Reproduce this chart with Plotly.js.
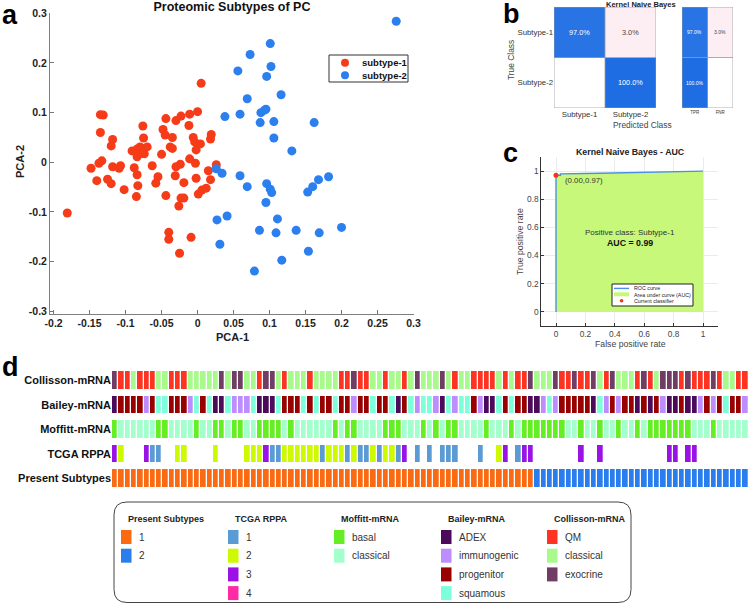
<!DOCTYPE html>
<html><head><meta charset="utf-8">
<script src="https://cdn.plot.ly/plotly-3.0.1.min.js"></script>
<style>html,body{margin:0;padding:0;background:#fff}#chart{width:749px;height:604px}</style>
</head><body><div id="chart"></div>
<script>
const W = 749, H = 604;
const FONT = 'Liberation Sans, Arial, Helvetica, sans-serif';

// ---------- Panel a : PCA scatter ----------
const scatterTitle = 'Proteomic Subtypes of PC';
const seriesNames = ['subtype-1', 'subtype-2'];
const seriesColors = ['#f53b18', '#2b7fee'];
const sub1_x = [0.005,-0.135,-0.131,-0.135,-0.118,-0.120,-0.076,-0.075,-0.091,-0.084,-0.080,-0.074,-0.070,-0.077,-0.084,-0.074,-0.044,-0.048,-0.045,-0.035,-0.038,-0.035,-0.050,-0.030,-0.023,-0.011,0.000,-0.012,-0.006,-0.004,-0.002,0.004,0.019,0.018,-0.011,-0.003,-0.024,-0.030,-0.031,-0.063,-0.055,-0.058,-0.044,-0.019,-0.002,0.001,0.006,0.012,0.015,0.018,0.026,-0.023,-0.019,-0.026,-0.148,-0.137,-0.133,-0.140,-0.125,-0.120,-0.118,-0.109,-0.107,-0.102,-0.088,-0.084,-0.083,-0.085,-0.181,-0.040,-0.040,-0.025,-0.009];
const sub1_y = [0.159,0.096,0.095,0.060,0.046,0.033,0.073,0.049,0.023,0.027,0.031,0.028,0.031,0.018,0.011,0.017,0.088,0.066,0.055,0.050,0.031,0.028,0.016,0.084,0.093,0.097,0.102,0.074,0.050,0.041,0.025,0.037,0.056,0.047,0.007,-0.002,-0.004,-0.009,-0.027,-0.007,-0.029,-0.042,-0.067,-0.041,-0.032,-0.064,-0.056,-0.052,-0.017,-0.035,-0.005,-0.072,-0.072,-0.088,-0.012,-0.002,0.003,-0.037,-0.034,-0.043,-0.009,-0.012,-0.007,-0.055,-0.011,-0.025,-0.047,-0.069,-0.102,-0.141,-0.155,-0.183,-0.151];
const sub2_x = [0.026,0.034,0.038,0.056,0.059,0.069,0.073,0.059,0.069,0.027,0.041,0.031,0.079,0.086,0.087,0.088,0.093,0.095,0.096,0.101,0.102,0.116,0.106,0.106,0.096,0.101,0.103,0.095,0.111,0.109,0.117,0.131,0.137,0.154,0.162,0.153,0.160,0.168,0.169,0.276,0.182,0.200];
const sub2_y = [-0.013,-0.022,0.092,0.184,0.097,0.128,0.217,-0.027,-0.049,-0.116,-0.108,-0.165,-0.219,-0.137,0.080,0.100,0.105,0.107,0.173,0.239,0.193,0.136,0.082,0.049,-0.043,-0.054,-0.061,-0.081,-0.114,-0.142,-0.197,0.023,-0.137,-0.179,0.080,-0.060,-0.049,-0.035,-0.142,0.284,-0.029,-0.131];
const pcaXTicks = [-0.2,-0.15,-0.1,-0.05,0,0.05,0.1,0.15,0.2,0.25,0.3];
const pcaXTickText = ['-0.2','-0.15','-0.1','-0.05','0','0.05','0.1','0.15','0.2','0.25','0.3'];
const pcaYTicks = [-0.3,-0.2,-0.1,0,0.1,0.2,0.3];
const pcaYTickText = ['-0.3','-0.2','-0.1','0','0.1','0.2','0.3'];

// ---------- Panel b : confusion matrix ----------
const cmTitle = 'Kernel Naive Bayes';
const cmClasses = ['Subtype-1', 'Subtype-2'];
const cmPercent = [[97.0, 3.0], [0, 100.0]];
const rateLabels = ['TPR', 'FNR'];
const ratePercent = [[97.0, 3.0], [100.0, 0]];

// ---------- Panel c : ROC ----------
const rocTitle = 'Kernel Naive Bayes - AUC';
const rocFPR = [0, 0, 0.03, 0.03, 0.3, 0.6, 1.0];
const rocTPR = [0, 0.97, 0.97, 0.98, 0.985, 0.99, 1.0];
const opFPR = [0.00];
const opTPR = [0.97];
const aucValue = 0.99;
const positiveClass = 'Subtype-1';
const rocTicks = [0, 0.2, 0.4, 0.6, 0.8, 1];
const rocTickText = ['0', '0.2', '0.4', '0.6', '0.8', '1'];
const rocLegendNames = ['ROC curve', 'Area under curve (AUC)', 'Current classifier'];
const rocLineColor = '#4a8fe6', aucFillColor = '#c8f87a', opColor = '#f5331c';

// ---------- Panel d : annotation tracks ----------
const rowNames = ['Collisson-mRNA', 'Bailey-mRNA', 'Moffitt-mRNA', 'TCGA RPPA', 'Present Subtypes'];
const presentCats = ['1', '2'];
const presentColors = ['#f96a12', '#2a7ded'];
const tcgaCats = ['1', '2', '3', '4'];
const tcgaColors = ['#5b9bd5', '#cdfa00', '#9a12e6', '#ff2aa6'];
const moffittCats = ['basal', 'classical'];
const moffittColors = ['#66ee24', '#a3ffcc'];
const baileyCats = ['ADEX', 'immunogenic', 'progenitor', 'squamous'];
const baileyColors = ['#4b0b5a', '#bd8cff', '#990000', '#7dffdb'];
const collissonCats = ['QM', 'classical', 'exocrine'];
const collissonColors = ['#ff3322', '#a8fa8c', '#703d65'];

// category index per sample (1-based; 0 = missing)
const collisson = [3,1,1,2,1,1,1,2,2,1, 1,1,2,2,2,2,2,3,2,3, 3,2,2,1,3,3,2,1,2,2, 2,1,2,2,2,2,1,1,3,1, 1,2,2,1,2,2,1,2,3,2, 2,2,3,2,1,2,2,1,1,1, 1,2,1,2,1,1,3,2,2,2, 3,1,1,3,1,1,3,2,1,3, 2,2,2,1,3,1,2,3,3,3, 1,3,1,1,1,3,1,2,2,1, 1];
const bailey = [1,3,3,3,3,2,3,4,4,3, 3,3,2,4,3,4,1,1,4,2, 2,2,4,1,1,1,4,3,3,3, 4,3,4,3,3,4,3,3,2,3, 3,4,3,3,4,1,3,4,2,4, 4,2,1,4,2,4,4,3,2,1, 1,4,3,4,3,3,1,1,2,4, 2,3,3,3,3,3,1,4,2,3, 2,3,3,1,3,1,3,2,1,1, 3,1,1,2,3,2,3,4,3,3, 2];
const moffitt = [1,2,2,2,2,2,2,1,1,2, 2,2,2,1,2,2,1,1,2,1, 1,2,2,1,1,1,1,2,1,2, 2,2,2,2,2,1,2,1,1,2, 2,2,2,1,1,1,2,2,2,1, 2,1,2,1,1,2,2,2,2,1, 2,2,2,1,2,1,1,1,1,1, 1,1,2,2,1,2,2,1,2,2, 1,2,2,1,2,1,1,1,1,1, 1,1,2,2,2,1,2,2,2,2, 2];
const tcga = [3,2,0,0,0,3,1,1,0,0, 2,2,0,0,0,0,2,0,0,0, 0,2,2,2,3,1,1,2,2,2, 2,2,2,1,2,2,2,1,2,1, 1,2,1,2,2,1,3,0,1,0, 1,0,1,1,1,0,0,0,1,0, 0,2,3,0,1,3,3,0,0,0, 0,0,0,0,3,0,0,3,0,0, 0,0,0,0,0,0,0,0,3,3, 0,3,3,0,0,0,0,0,0,0, 0];
const present = [1,1,1,1,1,1,1,1,1,1, 1,1,1,1,1,1,1,1,1,1, 1,1,1,1,1,1,1,1,1,1, 1,1,1,1,1,1,1,1,1,1, 1,1,1,1,1,1,1,1,1,1, 1,1,1,1,1,1,1,1,1,1, 1,1,1,1,1,1,1,2,2,2, 2,2,2,2,2,2,2,2,2,2, 2,2,2,2,2,2,2,2,2,2, 2,2,2,2,2,2,2,2,2,2, 2];

// ---------- helpers ----------
const fx = p => p / W;
const fy = p => 1 - p / H;
const font = (size, color, extra) => Object.assign({family: FONT, size: size, color: color || '#222'}, extra || {});

const trackColors = presentColors.concat(tcgaColors, moffittColors, baileyColors, collissonColors);
const offPresent = 0, offTcga = presentColors.length, offMoffitt = offTcga + tcgaColors.length,
      offBailey = offMoffitt + moffittColors.length, offCollisson = offBailey + baileyColors.length;
const nCodes = trackColors.length;
const trackScale = [];
trackColors.forEach((c, k) => { trackScale.push([k / nCodes, c]); trackScale.push([(k + 1) / nCodes, c]); });
const code = (arr, off) => arr.map(v => v === 0 ? null : off + v - 1);
const trackZ = [code(collisson, offCollisson), code(bailey, offBailey), code(moffitt, offMoffitt), code(tcga, offTcga), code(present, offPresent)];

const cmSigned = cmPercent.map((r, i) => r.map((v, j) => i === j ? v : -v));
const rateSigned = ratePercent.map(r => r.map((v, j) => j === 0 ? v : -v));
const cmScale = [[0, '#d8336e'], [0.47, '#f9dde6'], [0.5, '#ffffff'], [0.9, '#5b9bef'], [1, '#1f6de3']];

const traces = [
  {type: 'scatter', mode: 'markers', x: sub1_x, y: sub1_y, name: seriesNames[0], xaxis: 'x', yaxis: 'y', showlegend: false,
   marker: {size: 9, color: seriesColors[0]}, hoverinfo: 'skip'},
  {type: 'scatter', mode: 'markers', x: sub2_x, y: sub2_y, name: seriesNames[1], xaxis: 'x', yaxis: 'y', showlegend: false,
   marker: {size: 9, color: seriesColors[1]}, hoverinfo: 'skip'},
  {type: 'heatmap', z: cmSigned, x: [0, 1], y: [0, 1], xaxis: 'x2', yaxis: 'y2', zmin: -100, zmax: 100, colorscale: cmScale,
   showscale: false, hoverinfo: 'skip', showlegend: false},
  {type: 'heatmap', z: rateSigned, x: [0, 1], y: [0, 1], xaxis: 'x3', yaxis: 'y3', zmin: -100, zmax: 100, colorscale: cmScale,
   showscale: false, hoverinfo: 'skip', showlegend: false},
  {type: 'scatter', mode: 'lines', x: rocFPR, y: rocTPR, xaxis: 'x4', yaxis: 'y4', fill: 'tozeroy', fillcolor: aucFillColor,
   line: {width: 0, color: aucFillColor}, name: rocLegendNames[1], showlegend: false, hoverinfo: 'skip'},
  {type: 'scatter', mode: 'lines', x: rocFPR, y: rocTPR, xaxis: 'x4', yaxis: 'y4', line: {width: 1.4, color: rocLineColor},
   name: rocLegendNames[0], showlegend: false, hoverinfo: 'skip'},
  {type: 'scatter', mode: 'markers', x: opFPR, y: opTPR, xaxis: 'x4', yaxis: 'y4', marker: {size: 5, color: opColor},
   name: rocLegendNames[2], showlegend: false, hoverinfo: 'skip'},
  {type: 'heatmap', z: trackZ, xaxis: 'x5', yaxis: 'y5', zmin: -0.5, zmax: nCodes - 0.5, colorscale: trackScale,
   showscale: false, xgap: 1.3, ygap: 7, hoverinfo: 'skip', showlegend: false}
];

const annotations = [];
const shapes = [];
function ann(text, x, y, f, extra) {
  annotations.push(Object.assign({text: text, x: fx(x), y: fy(y), xref: 'paper', yref: 'paper', showarrow: false,
    xanchor: 'center', yanchor: 'middle', font: f}, extra || {}));
}
function rectPx(x0, y0, x1, y1, fill, line) {
  shapes.push({type: 'rect', xref: 'paper', yref: 'paper', x0: fx(x0), x1: fx(x1), y0: fy(y1), y1: fy(y0),
    fillcolor: fill || 'rgba(0,0,0,0)', line: line || {width: 0}});
}
// panel letters
ann('<b>a</b>', 0, 15, font(27, '#000'), {xanchor: 'left'});
ann('<b>b</b>', 501, 14, font(27, '#000'), {xanchor: 'left'});
ann('<b>c</b>', 501, 153, font(27, '#000'), {xanchor: 'left'});
ann('<b>d</b>', 0, 367, font(27, '#000'), {xanchor: 'left'});
// axis titles
ann('<b>PCA-2</b>', 20, 162, font(11, '#222'), {textangle: -90});
ann('<b>PCA-1</b>', 232, 337, font(11, '#222'));
ann('<b>' + cmTitle + '</b>', 641, 4, font(7.5, '#222'));
ann('True Class', 511, 60, font(8.4, '#444'), {textangle: -90});
ann('Predicted Class', 642, 125, font(8.4, '#444'));
ann('<b>' + rocTitle + '</b>', 630, 152, font(8.8, '#222'));
ann('True positive rate', 520, 242, font(8.7, '#444'), {textangle: -90});
ann('False positive rate', 630, 344, font(8.7, '#444'));
// ROC text
annotations.push({text: '(' + opFPR[0].toFixed(2) + ',' + opTPR[0].toFixed(2) + ')', x: 0.045, y: 0.93, xref: 'x4', yref: 'y4',
  showarrow: false, xanchor: 'left', yanchor: 'middle', font: font(7.8, '#333')});
annotations.push({text: 'Positive class: ' + positiveClass, x: 0.5, y: 0.565, xref: 'x4', yref: 'y4', showarrow: false,
  font: font(8, '#333')});
annotations.push({text: '<b>AUC = ' + aucValue.toFixed(2) + '</b>', x: 0.5, y: 0.49, xref: 'x4', yref: 'y4', showarrow: false,
  font: font(8.8, '#111')});
// confusion matrix cell labels
cmPercent.forEach((r, i) => r.forEach((v, j) => {
  if (v > 0) annotations.push({text: v.toFixed(1) + '%', x: j, y: i, xref: 'x2', yref: 'y2', showarrow: false,
    font: font(7.3, i === j ? '#ffffff' : '#444')});
}));
ratePercent.forEach((r, i) => r.forEach((v, j) => {
  if (v > 0) annotations.push({text: v.toFixed(1) + '%', x: j, y: i, xref: 'x3', yref: 'y3', showarrow: false,
    font: font(5, j === 0 ? '#ffffff' : '#444')});
}));
['x2', 'x3'].forEach((xa, k) => {
  const ya = k === 0 ? 'y2' : 'y3';
  shapes.push({type: 'rect', xref: xa, yref: ya, x0: -0.5, x1: 1.5, y0: -0.5, y1: 1.5, line: {color: '#9a9a9a', width: 0.8}});
  shapes.push({type: 'line', xref: xa, yref: ya, x0: 0.5, x1: 0.5, y0: -0.5, y1: 1.5, line: {color: '#9a9a9a', width: 0.8}});
  shapes.push({type: 'line', xref: xa, yref: ya, x0: -0.5, x1: 1.5, y0: 0.5, y1: 0.5, line: {color: '#9a9a9a', width: 0.8}});
});

// ---------- legend of panel a ----------
rectPx(329, 55, 408, 82, '#ffffff', {color: '#333', width: 1});
seriesNames.forEach((n, k) => {
  const cy = 62.7 + 12.6 * k;
  shapes.push({type: 'circle', xref: 'paper', yref: 'paper', x0: fx(341), x1: fx(349), y0: fy(cy + 4), y1: fy(cy - 4),
    fillcolor: seriesColors[k], line: {width: 0}});
  ann('<b>' + n + '</b>', 360, cy, font(9.5, '#111'), {xanchor: 'left'});
});

// ---------- legend of panel c ----------
rectPx(612, 284, 693, 306, '#ffffff', {color: '#222', width: 1});
shapes.push({type: 'line', xref: 'paper', yref: 'paper', x0: fx(614), x1: fx(629), y0: fy(288.4), y1: fy(288.4),
  line: {color: rocLineColor, width: 1.4}});
rectPx(614, 292.3, 629, 296.3, aucFillColor);
shapes.push({type: 'circle', xref: 'paper', yref: 'paper', x0: fx(619.8), x1: fx(623.4), y0: fy(302.5), y1: fy(298.9),
  fillcolor: opColor, line: {width: 0}});
rocLegendNames.forEach((n, k) => ann(n, 631.5, 288.4 + 6.2 * k, font(5.3, '#222'), {xanchor: 'left'}));

// ---------- legend box for panel d ----------
const bx0 = 114, bx1 = 631, by0 = 502, by1 = 602.5, r = 13;
const P = (x, y) => fx(x) + ',' + fy(y);
shapes.push({type: 'path', xref: 'paper', yref: 'paper', line: {color: '#444', width: 1},
  path: 'M' + P(bx0 + r, by0) + ' L' + P(bx1 - r, by0) + ' Q' + P(bx1, by0) + ' ' + P(bx1, by0 + r) +
        ' L' + P(bx1, by1 - r) + ' Q' + P(bx1, by1) + ' ' + P(bx1 - r, by1) + ' L' + P(bx0 + r, by1) +
        ' Q' + P(bx0, by1) + ' ' + P(bx0, by1 - r) + ' L' + P(bx0, by0 + r) + ' Q' + P(bx0, by0) + ' ' + P(bx0 + r, by0) + ' Z'});
const legendTitles = ['Present Subtypes', 'TCGA RPPA', 'Moffitt-mRNA', 'Bailey-mRNA', 'Collisson-mRNA'];
const legendCats = [presentCats, tcgaCats, moffittCats, baileyCats, collissonCats];
const legendCols = [presentColors, tcgaColors, moffittColors, baileyColors, collissonColors];
const swatchLeft = [121, 228, 334, 441, 547];
legendTitles.forEach((t, g) => {
  const sx = swatchLeft[g];
  ann('<b>' + t + '</b>', sx + 5, 519, font(9, '#222'), {xanchor: 'left'});
  legendCats[g].forEach((c, k) => {
    const cy = 537 + 18.7 * k;
    rectPx(sx, cy - 7, sx + 10.5, cy + 7, legendCols[g][k]);
    ann(c, sx + 15.5, cy, font(10, '#333'), {xanchor: 'left'});
  });
});

const axBase = {showgrid: false, zeroline: false, fixedrange: true};
const layout = {
  width: W, height: H, margin: {l: 0, r: 0, t: 0, b: 0}, paper_bgcolor: '#fff', plot_bgcolor: 'rgba(0,0,0,0)',
  font: {family: FONT}, showlegend: false,
  title: {text: '<b>' + scatterTitle + '</b>', x: fx(232), xanchor: 'center', xref: 'paper', y: fy(7), yanchor: 'middle', yref: 'paper',
    font: font(12.5, '#111')},
  xaxis: Object.assign({}, axBase, {domain: [fx(50), fx(413.5)], range: [-0.205, 0.3], anchor: 'y', tickvals: pcaXTicks, ticktext: pcaXTickText,
    ticks: 'inside', ticklen: 4, tickcolor: '#777', showline: true, linecolor: '#7f7f7f', linewidth: 1,
    tickfont: font(10.5, '#222', {weight: 'bold'})}),
  yaxis: Object.assign({}, axBase, {domain: [fy(313.8), fy(13.3)], range: [-0.305, 0.3], anchor: 'x', tickvals: pcaYTicks, ticktext: pcaYTickText,
    ticks: 'inside', ticklen: 4, tickcolor: '#777', showline: true, linecolor: '#7f7f7f', linewidth: 1,
    tickfont: font(10.5, '#222', {weight: 'bold'})}),
  xaxis2: Object.assign({}, axBase, {domain: [fx(554), fx(656)], range: [-0.5, 1.5], anchor: 'y2', tickvals: [0, 1], ticktext: cmClasses,
    ticks: '', showline: false, tickfont: font(7.8, '#333')}),
  yaxis2: Object.assign({}, axBase, {domain: [fy(108), fy(7)], range: [1.5, -0.5], anchor: 'x2', tickvals: [0, 1], ticktext: cmClasses,
    ticks: '', showline: false, tickfont: font(7.8, '#333')}),
  xaxis3: Object.assign({}, axBase, {domain: [fx(682), fx(733)], range: [-0.5, 1.5], anchor: 'y3', tickvals: [0, 1], ticktext: rateLabels,
    ticks: '', showline: false, tickfont: font(4.5, '#333')}),
  yaxis3: Object.assign({}, axBase, {domain: [fy(108), fy(7)], range: [1.5, -0.5], anchor: 'x3', showticklabels: false, ticks: '', showline: false}),
  xaxis4: Object.assign({}, axBase, {domain: [fx(541.3), fx(717.7)], range: [-0.1, 1.1], anchor: 'y4', tickvals: rocTicks, ticktext: rocTickText,
    showgrid: true, gridcolor: '#e3e3e3', gridwidth: 0.7, ticks: 'inside', ticklen: 3, tickcolor: '#333',
    showline: true, linecolor: '#333', linewidth: 1, tickfont: font(8.3, '#444')}),
  yaxis4: Object.assign({}, axBase, {domain: [fy(326), fy(157)], range: [-0.1, 1.1], anchor: 'x4', tickvals: rocTicks, ticktext: rocTickText,
    showgrid: true, gridcolor: '#e3e3e3', gridwidth: 0.7, ticks: 'inside', ticklen: 3, tickcolor: '#333',
    showline: true, linecolor: '#333', linewidth: 1, tickfont: font(8.3, '#444')}),
  xaxis5: Object.assign({}, axBase, {domain: [fx(112), fx(748.5)], range: [-0.5, collisson.length - 0.5], anchor: 'y5', visible: false}),
  yaxis5: Object.assign({}, axBase, {domain: [fy(490.5), fy(368)], range: [4.5, -0.5], anchor: 'x5', tickvals: [0, 1, 2, 3, 4], ticktext: rowNames,
    ticks: '', showline: false, tickfont: font(11, '#111', {weight: 'bold'})}),
  annotations: annotations,
  shapes: shapes
};

Plotly.newPlot('chart', traces, layout, {displayModeBar: false, staticPlot: true});
</script>
</body></html>
